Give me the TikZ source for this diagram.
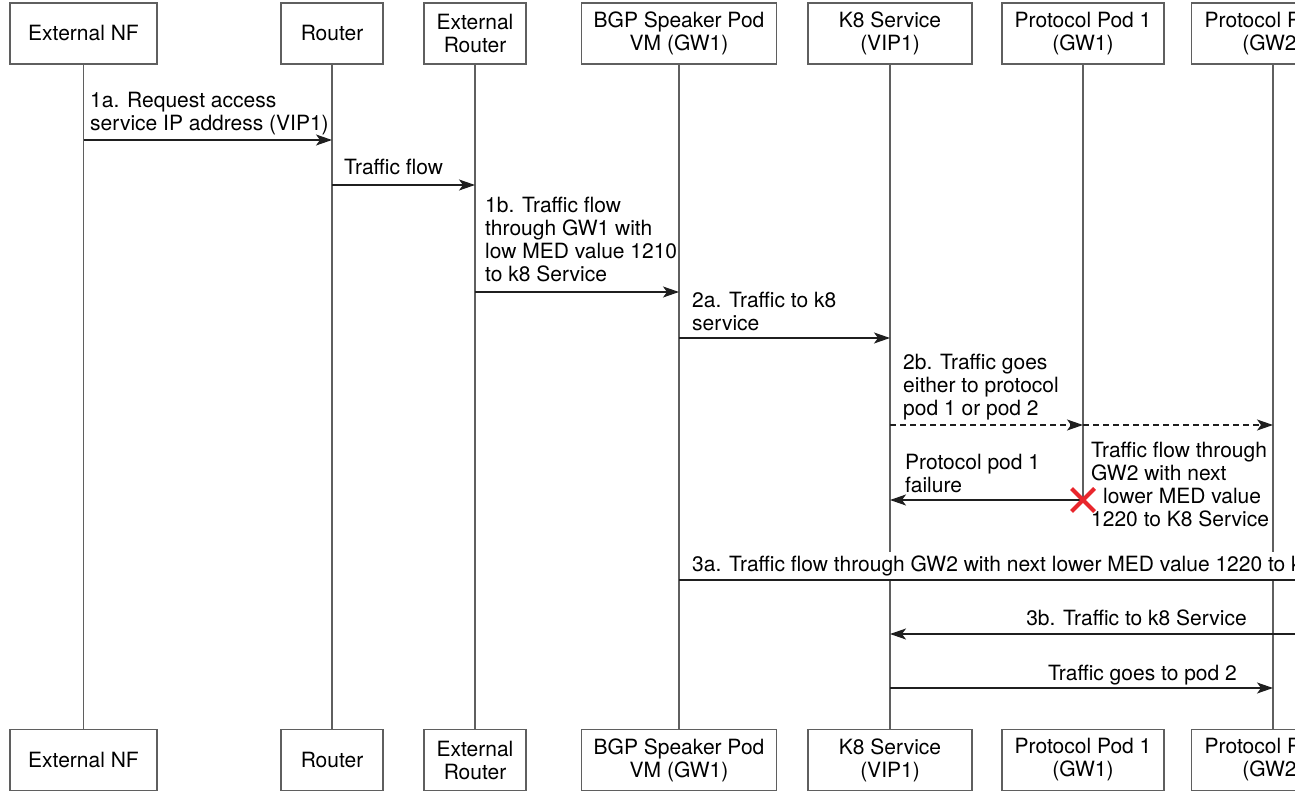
\documentclass[tikz,border=0pt]{standalone}
\usepackage{fontspec}
\setmainfont{TeX Gyre Heros}
\usetikzlibrary{arrows.meta, shapes.misc}
\definecolor{linegray}{RGB}{95,95,95}
\definecolor{crossred}{RGB}{232,38,44}

\begin{document}
\begin{tikzpicture}[x=1pt, y=-1pt,
    font=\fontsize{21}{23}\selectfont,
    actor/.style={draw=linegray, line width=1.3pt, minimum height=61pt, align=center, inner sep=2pt},
    life/.style={draw=linegray, line width=1.3pt},
    msg/.style={draw=black!88, line width=1.3pt, -{Stealth[length=16pt, width=11pt, inset=4pt]}},
    lbl/.style={align=left, anchor=north west, inner sep=0pt}]
    \useasboundingbox (0, 0) rectangle (1295, 791);
    \clip (0, 0) rectangle (1295, 791);

    % participants, top row
    \node[actor, minimum width=147pt] (nfTop) at (83.5, 33.5) {External NF};
    \node[actor, minimum width=102pt] (rtTop) at (332, 33.5) {Router};
    \node[actor, minimum width=102pt] (extTop) at (475, 33.5) {External\\Router};
    \node[actor, minimum width=195pt] (bgpTop) at (679, 33.5) {BGP Speaker Pod\\VM (GW1)};
    \node[actor, minimum width=164pt] (k8Top) at (890, 33.5) {K8 Service\\(VIP1)};
    \node[actor, minimum width=162pt] (podaTop) at (1083, 33.5) {Protocol Pod 1\\(GW1)};
    \node[actor, minimum width=163pt] (podbTop) at (1273, 33.5) {Protocol Pod 2\\(GW2)};

    % participants, bottom row
    \node[actor, minimum width=147pt] (nfBot) at (83.5, 760) {External NF};
    \node[actor, minimum width=102pt] (rtBot) at (332, 760) {Router};
    \node[actor, minimum width=102pt] (extBot) at (475, 760) {External\\Router};
    \node[actor, minimum width=195pt] (bgpBot) at (679, 760) {BGP Speaker Pod\\VM (GW1)};
    \node[actor, minimum width=164pt] (k8Bot) at (890, 760) {K8 Service\\(VIP1)};
    \node[actor, minimum width=162pt] (podaBot) at (1083, 760) {Protocol Pod 1\\(GW1)};
    \node[actor, minimum width=163pt] (podbBot) at (1273, 760) {Protocol Pod 2\\(GW2)};

    % lifelines (pod 1 stops where it fails)
    \coordinate (fail) at (podaTop |- 0, 500);
    \draw[life] (nfTop) -- (nfBot);
    \draw[life] (rtTop) -- (rtBot);
    \draw[life] (extTop) -- (extBot);
    \draw[life] (bgpTop) -- (bgpBot);
    \draw[life] (k8Top) -- (k8Bot);
    \draw[life] (podaTop) -- (fail);
    \draw[life] (podbTop) -- (podbBot);

    % messages
    \coordinate (offRight) at (1340, 0);
    \draw[msg] (nfTop |- 0, 140) -- (rtTop |- 0, 140);
    \node[lbl] (reqText) at (90, 92) {1a. Request access\\service IP address (VIP1)};
    \draw[msg] (rtTop |- 0, 185) -- (extTop |- 0, 185);
    \node[anchor=base west, inner sep=0pt] (flowText) at (344, 175) {Traffic flow};
    \draw[msg] (extTop |- 0, 292) -- (bgpTop |- 0, 292);
    \node[lbl] (gwaText) at (485, 197) {1b. Traffic flow\\through GW1 with\\low MED value 1210\\to k8 Service};
    \draw[msg] (bgpTop |- 0, 338) -- (k8Top |- 0, 338);
    \node[lbl] (svcText) at (692, 292) {2a. Traffic to k8\\service};
    \draw[msg, dashed, dash pattern=on 6pt off 4pt] (k8Top |- 0, 425) -- (podaTop |- 0, 425);
    \draw[msg, dashed, dash pattern=on 6pt off 4pt] (podaTop |- 0, 425) -- (podbTop |- 0, 425);
    \node[lbl] (eitherText) at (903, 354) {2b. Traffic goes\\either to protocol\\pod 1 or pod 2};
    \draw[msg] (fail) -- (k8Top |- fail);
    \node[cross out, draw=crossred, line width=4pt, minimum size=19pt, inner sep=0pt] (failMark) at (fail) {};
    \node[lbl] (failText) at (905, 454) {Protocol pod 1\\failure};
    \node[lbl] (gwbText) at (1091, 442) {Traffic flow through\\GW2 with next\\\hspace{12pt}lower MED value\\1220 to K8 Service};
    \draw[msg] (bgpTop |- 0, 580) -- (offRight |- 0, 580);
    \node[anchor=base west, fill=white, inner xsep=0pt, inner ysep=3pt] (nextText) at (692, 571) {3a. Traffic flow through GW2 with next lower MED value 1220 to k8 Service};
    \draw[msg] (offRight |- 0, 634) -- (k8Top |- 0, 634);
    \node[anchor=base east, inner sep=0pt] (backText) at (1247, 625) {3b. Traffic to k8 Service};
    \draw[msg] (k8Top |- 0, 688) -- (podbTop |- 0, 688);
    \node[anchor=base east, inner sep=0pt] (podText) at (1237, 680) {Traffic goes to pod 2};
\end{tikzpicture}
\end{document}
